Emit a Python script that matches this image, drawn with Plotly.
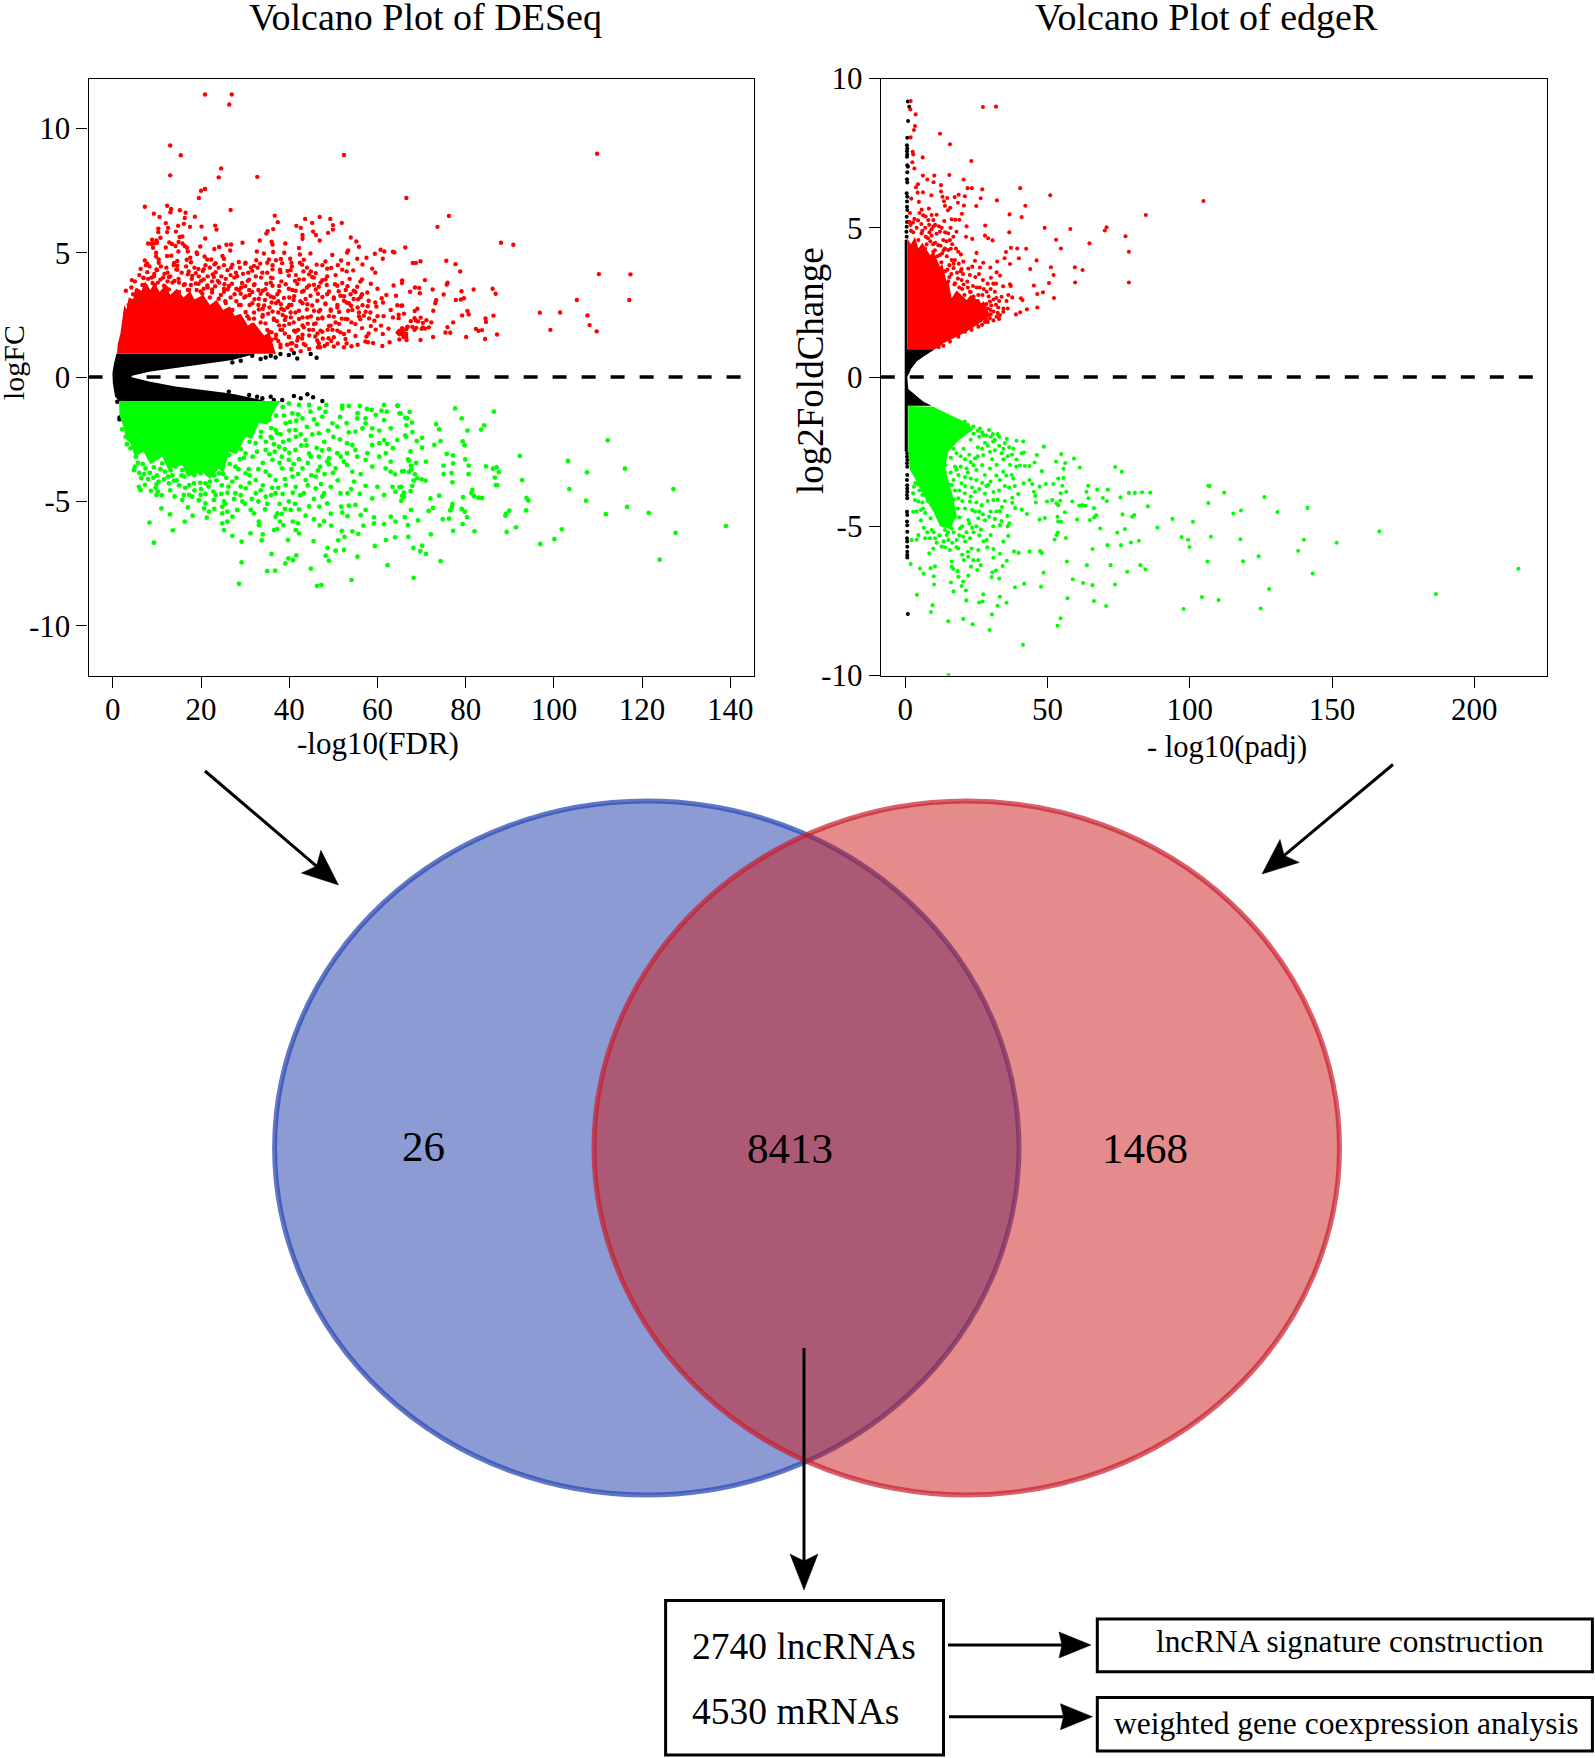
import plotly.graph_objects as go

W, H = 1595, 1758
SERIF = "Liberation Serif"

# ---------- DATA ----------
deseq_up = [(20.9,11.36),(26.96,11.36),(26.4,10.96),(13,9.31),(15.4,8.92),(52.4,8.93),(24.55,8.39),(13,8.11),(24,8.03),(32.75,8.05),(20.9,7.56),(20,7.49),(19.5,7.2),(7.25,6.85),(26.7,6.72),(12.3,6.89),(13.2,6.76),(13.05,6.63),(15.2,6.71),(16.5,6.61),(9.3,6.57),(10.6,6.44),(18.6,6.45),(16.3,6.4),(12,6.19),(14.8,6.08),(16.1,6.16),(17.5,6.04),(20.1,6.05),(23.2,6.09),(23.5,5.93),(36.7,6.49),(37.4,6.23),(43.6,6.36),(41.6,6.08),(42.6,6),(45.2,6.2),(46.9,6.44),(49.3,6.36),(49.9,6.11),(49.9,5.93),(48.8,5.8),(51.9,6.2),(45.4,5.85),(46.05,5.71),(46.9,5.49),(43,5.71),(43,5.56),(36.35,5.95),(35.1,5.87),(34.8,5.77),(33.3,5.49),(29.4,5.4),(36,5.44),(36.2,5.33),(39.1,5.37),(53.95,5.61),(55.2,5.45),(55.8,5.24),(53.35,5.09),(53.1,5.01),(51.75,4.69),(55.4,4.76),(53.35,4.56),(57.5,4.8),(59.4,4.96),(60.7,5.12),(61.55,5.05),(63.5,5.04),(63.8,5.01),(61.2,4.76),(65.6,3.89),(63.65,3.68),(58.8,4.36),(59.5,4.2),(56.6,4.53),(52,4.32),(53,4.25),(54.5,4.29),(53.7,3.95),(56.5,3.93),(56.1,3.84),(55.4,3.63),(48.2,4.65),(49.75,4.91),(48.6,4.36),(49.5,4.39),(46.2,4.52),(44.8,4.97),(42.2,5.19),(42.4,4.93),(43.3,4.72),(42.4,4.6),(40.2,4.76),(40.5,4.59),(38.85,5),(38.1,4.75),(36.35,5.03),(34.25,4.97),(32.65,5.05),(32.5,4.7),(35,4.6),(35.4,4.73),(37,4.7),(37.9,4.32),(39.6,4.27),
(10.3,5.97),(10.3,5.83),(12.5,6),(12.3,5.83),(14.3,5.85),(15.75,5.65),(15.15,5.63),(10.8,5.6),(9.9,5.49),(8.9,5.52),(8,5.37),(8.7,5.36),(9.3,5.37),(10,5.4),(9.1,5.2),(12.8,5.41),(13.4,5.35),(14.2,5.27),(14.9,5.43),(15.8,5.37),(16.3,5.27),(20.95,5.57),(19.8,5.25),(16.8,5.2),(12,5.21),(14.85,5.05),(17,5.05),(19,5.01),(23,5.15),(24.1,5.23),(25.75,5.32),(26.8,5.33),(26.6,5.09),(24.85,4.87),(25.2,4.76),(9.8,5),(9.8,4.85),(12.3,4.87),(13.25,4.88),(13.9,4.59),(14.6,4.67),(16.75,4.72),(17.55,4.8),(19.1,4.95),(20.8,4.85),(21.4,4.73),(22.3,4.73),(7.25,4.69),(7.8,4.56),(10.4,4.73),(28.55,4.63),(30,4.56),
(109.8,8.98),(66.55,7.2),(76.2,6.48),(73.6,6.04),(88,5.4),(90.8,5.32),(66.3,5.21),(69.75,4.66),(68,4.59),(68.7,4.59),(75.6,4.68),(77.7,4.54),(78.75,4.25),(110.2,4.14),(117.35,4.13),(70.75,3.9),(65.55,3.78),(75.9,3.79),(75.7,3.72),(72.5,3.52),(68.5,3.6),(69.45,3.58),(69.6,3.37),(67.4,3.43),(75,3.32),(79.05,3.45),(81.8,3.52),(86.1,3.55),(86.8,3.35),(105.2,3.1),(117.1,3.1),(79.6,3.17),(78.9,3.12),(77.75,3.1),(73.3,3.09),(73.1,2.97),(65.4,2.87),(69.05,2.75),(68.45,2.66),(72.65,2.67),(80.4,2.66),(80.7,2.52),(79.2,2.48),(66,2.55),(96.8,2.59),(101.4,2.6),(107.6,2.48),(86.3,2.47),(84.5,2.36),(84.6,2.22),(64.8,2.37),(68.4,2.37),(67.55,2.25),(68.7,2.28),(69.2,2.24),(69.8,2.39),(71.1,2.29),(70.3,2.18),(72.2,2.2),(77.15,2.2),(108.1,2.09),(75.85,2.01),(82.3,1.94),(82.9,1.86),(83.7,1.89),(99.2,1.9),(109.7,1.84),(75.4,1.79),(76.5,1.78),(67.9,2.02),(66.85,2.03),(68.4,1.9),(68.8,1.98),(70,1.94),(70.3,2),(70.8,1.95),(71.65,2),(66.55,1.93),(65.7,1.89),(64.6,1.79),(65,1.72),(65.9,1.79),(66.5,1.74),(65.9,1.61),(72.6,1.61),(80.1,1.61),(87.1,1.71),(84.4,1.53),(64.95,1.51),(66.6,1.49),(69.75,1.49),
(61.1,1.25),(62.75,1.4),(59,1.37),(57.85,1.4),(57.25,1.43),(57.5,1.63),(61.2,1.73),(60.8,2.07),(59.6,1.91),(59.3,2.27),(58.4,2.6),(59.75,2.84),(59.5,3),(58,3.07),(60.95,3.17),(61.25,3),(61.4,2.45),(63.5,2.4),(64.8,2.51),(64.5,2.89),(65.6,2.88),(64.2,3.27),(65,1.87),(65.6,1.97),(66.7,2),(65.5,1.73),(66.5,1.63),(56.9,2.47),(56.1,2.33),(56.5,1.97),(55,2.13),(53.2,2.33),(54.1,2.2),(53.35,2.67),(54,2.87),(55.5,2.8),(55.6,3.13),(56.5,3.33),(54.6,3.47),(53.9,3.33),(52.4,1.73),(51.6,1.8),(52.75,1.53),(54.1,1.24),(52.4,1.2),(50.1,1.23),(48.6,1.33),(50.1,1.6),(50.9,1.87),(49.4,2.07),(50.5,2.2),(47.1,1.87),(47.5,2.4),(49.4,2.67),(50.9,2.8),(48.2,2.93),(50.1,3.2),(51.6,3.27),(52.4,3.07),(48.6,3.33),(50.35,3.73),(48.2,3.93),(46.7,3.63),(45.6,3.71),(44.5,4.13),(45.6,4),(41.3,3.87),(43.3,3.93),(41.45,3.47),(43.3,3.47),(44.8,3.27),(46.35,3.07),(44.1,2.93),(45.6,2.67),(44.1,2.4),(45.6,2.13),(43.3,2),(44.5,1.67),(46.35,1.47),(46.5,1.2),(44.5,1.13),(42.6,1.04),(43.3,1.33),(41.8,1.47),(39.95,1.6),(41.1,1.87),(38.85,2.07),(40.35,2.4),(42.2,2.67),(39.6,2.8),(40,3.2),(38.1,2.93),(37.3,3.33),(39.2,3.73),(35.85,4),(36.2,3.67),(35.1,3.33),(34,3.47),(32.1,3.73),(33.6,4),(30.6,3.87),(29.1,3.6),(27.55,4),(26.8,4.4),(31.3,4.4),(32.8,4.4),(29.8,3.2),(32.1,3.13),(27.6,3.33),(25.3,3.73),(26.05,3.53),(23.8,3.87),(22.65,4.13),(23.05,4.53),(20.4,4.27),(18.5,4.4),(17,4.13),(14.4,4.33),(12.15,4.4),(9.9,4.33),(6.9,4),(2.95,3.47),(4.6,3.33),(5.4,3.47),(8.75,4),(11.4,4),(14,3.87),(16.3,3.73),(20,3.87),(21.5,3.6),
(34,2.5),(35.5,2.8),(36.5,2.3),(37.5,2.6),(38,1.9),(39,2.3),(39.5,1.3),(40.5,1.1),(38,1.2),(36,1.5),(35,1.9),(33.5,2.2),(32,2.6),(31,2.9),(33,2.9),(36,3),(41,2.2),(42,1.6),(43,2.4),(42.5,3.05),(41,3.1),(37,1.7),(34.5,1.35),(44,3.6),(46.5,2.35),(47.6,1.55),(48.7,1.9),(47,2.7),(30.5,2.45),(29,2.9),(28,3.05),(24.5,3.3),(22.5,3.4),(25.5,3.05),(19,3.5),(17,3.5),(12,3.6),(9.5,3.7),(7.5,3.65),
(7.5,4.5),(10.4,4.6),(14.6,4.48),(17.7,4.62),(21,4.5),(23.3,4.58),(27.1,4.52),(30.1,4.6),(32,4.47),(33.4,4.56),(36.2,4.5),(38.4,4.58),(40.6,4.45),(42.9,4.52),(7.8,4.22),(10,4.3),(12.4,4.2),(14.6,4.32),(17.2,4.25),(18.8,4.18),(20.6,4.34),(23.3,4.22),(26,4.3),(27.9,4.2),(31.6,4.28),(33.9,4.2),(36.2,4.33),(38,4.22),(40.3,4.3),(44.9,4.25),(46,4.18),(7,3.98),(9.3,4.05),(10.8,3.92),(12.7,4.02),(14.9,3.95),(18,4.07),(20.6,3.93),(22.9,4.03),(25.6,3.95),(28.2,4.06),(30.9,3.92),(32.4,4.05),(36.2,3.98),(39.9,4.08),(42.2,3.93),(45.2,4.02),(47.5,3.9),(48.6,4.05),(6.7,3.7),(9,3.78),(11.6,3.67),(13.5,3.8),(16.1,3.7),(18.8,3.76),(21.4,3.68),(24.1,3.8),(26.3,3.66),(29.3,3.78),(32,3.7),(35.8,3.8),(37.7,3.66),(41.8,3.75),(44.5,3.68),(47.1,3.8),(50.9,3.67),(52,3.78),(5.5,3.42),(7.4,3.5),(10,3.44),(12.7,3.52),(15,3.42),(17.3,3.5),(19.9,3.44),(22.5,3.52),(25.2,3.43),(28.6,3.5),(31.6,3.42),(34.6,3.53),(37.7,3.45),(40.7,3.5),(42.9,3.43),(46,3.52),(49,3.44),(52.8,3.5),(55,3.42),(30.1,3.25),(33.1,3.15),(35.8,3.24),(38.8,3.18),(41.1,3.25),(43.7,3.14),(47.5,3.22),(50.1,3.15),(52.4,3.25),(54.6,3.14),(56.2,3.22),(3.6,2.9),(25.6,2.98),(28.6,2.9),(31.6,2.97),(34.3,2.88),(37,2.98),(40,2.9),(43,2.97),(45.2,2.88),(48.2,2.96),(50.9,2.9),(53.5,2.97),(56.6,2.89),(2.9,2.62),(27.1,2.7),(30.1,2.62),(33.1,2.72),(36.2,2.64),(38.8,2.7),(41.4,2.6),(44,2.72),(46.7,2.64),(49.4,2.72),(51.3,2.62),(54.3,2.7),(57.3,2.63),(30.9,2.35),(33.9,2.43),(36.5,2.36),(39.2,2.42),(42.2,2.34),(44.9,2.44),(47.5,2.36),(50.1,2.43),(52.8,2.34),(55.8,2.44),(58.1,2.36),(31.6,2.1),(34.6,2.16),(37.7,2.08),(40,2.14),(43,2.08),(46,2.16),(49,2.06),(51.3,2.14),(35.4,1.83),(38.4,1.9),(41.4,1.82),(44.5,1.9),(47.5,1.82),(49.8,1.9),(53.5,1.85),(36.9,1.56),(39.9,1.62),(42.9,1.55),(45.9,1.63),(48.9,1.56),(38,1.3),(40.7,1.36),(43.7,1.28),(46.7,1.36),
(4.2,3.6),(5,3.85),(6,4.1),(6.3,4.35),(8.3,4.45),(9.4,4.15),(10.9,4.45),(11.7,4.15),(13,4.05),(13.8,4.5),(15.6,4.2),(16.6,4.45),(17.9,3.95),(19.4,4.35),(19.5,4.05),(21.5,4.05),(22,4.4),(24,4.4),(24.6,4.05),(25.2,4.5),(26.7,4.1),(28.8,4.4),(29.5,4.15),(30.7,4.2),(4.3,3.9),(8,3.95),(10.2,3.8),(12.4,3.85),(15,3.8),(17.7,3.7),(19.4,3.75),(20.6,3.55),(22.5,3.85),(23.2,3.65),(25.2,3.55),(27,3.75),(28,3.55),(30,3.65),(30.9,3.5),(33,3.5),(33.5,3.35),(31,3.3),(29,3.35),(26.7,3.2),(24,3.15),(22,3.2),(20.3,3.35),(34.5,3.1),(36.5,3.2),(37.5,3.05),(34,2.75),(32,2.35),(35.2,2.55),(37.2,2.25),(38.5,2.5),(40.3,2.6),(38.2,2.75),(40.5,2.9),(36,1.8),(37.5,1.45),(39,1.75),(40.3,1.35),(41.6,1.25),(42,1.9),(43,1.7),(44.2,2.15),(45.4,1.9),(46.4,1.75),(47,1.2),(48,1.25),(49.5,1.45),(51,1.35),(53,1.35),(55,1.65),(55.5,1.3),(58,1.75),(58.5,2.05),(60,2.45),(62.5,1.95),(63,2.7),(62,3.3),(60,3.55),(58.5,3.75),(57.7,3.4),(57.8,2.85),(55.8,2.6),(53,3),(51.9,2.35),(49,2.45),(46.5,3.35),(48.5,3.7),(51.2,3.45),(53.2,3.65),(39.9,3.55),(38.2,3.85),(34.8,3.75),(35,4.2),(41.5,4.1),(43.2,4.25),(44,4.4),(47.5,4.5),(50.5,4.1),(51,4.5)]
deseq_down = [(77.6,-1.26),(86.4,-1.39),(67.3,-1.4),(65,-1.46),(64.6,-1.15),(79.1,-1.66),(66.3,-1.64),(67.8,-1.83),(66.55,-1.94),(73.3,-1.89),(74,-2.1),(80.4,-2.15),(84.2,-1.94),(83.5,-2.11),(67.9,-2.21),(66.3,-2.34),(66.5,-2.4),(70.1,-2.44),(68.9,-2.57),(74.3,-2.57),(79.3,-2.58),(79.75,-2.74),(112.2,-2.54),(72.9,-2.73),(70.1,-2.84),(67.5,-2.99),(75.7,-3.09),(77.1,-3.15),(92.25,-3.17),(66.9,-3.31),(67.15,-3.36),(68.75,-3.45),(71,-3.4),(79.9,-3.31),(103.2,-3.37),(77.15,-3.47),(75,-3.56),(80.7,-3.56),(84.6,-3.59),(67.6,-3.56),(87,-3.63),(86.2,-3.68),(87.5,-3.82),(116.1,-3.68),(107.5,-3.83),(65.6,-3.79),(67.15,-3.82),(67.6,-3.72),(75,-3.9),(76.8,-3.86),(80.65,-3.9),(68.5,-3.91),(86.6,-4.04),(69,-4.07),(70,-4.11),(70.9,-4.16),(68.2,-4.16),(92.8,-4.14),(77,-4.23),(67.9,-4.37),(86.8,-4.34),(87.2,-4.34),(65,-4.42),(103.5,-4.5),(127.1,-4.5),(67.5,-4.58),(81.5,-4.53),(81.3,-4.66),(66,-4.65),(65.6,-4.78),(65.4,-4.97),(74,-4.77),(72,-4.88),(79.4,-4.83),(81.9,-4.79),(82.9,-4.85),(83.7,-4.86),(93.8,-4.86),(94.2,-4.96),(107.3,-4.97),(77,-5.1),(76.85,-5.24),(76.5,-5.36),(72.6,-5.26),(71.6,-5.38),(79.1,-5.3),(79.8,-5.41),(67.6,-5.34),(89.9,-5.37),(89.2,-5.49),(89,-5.57),(93.7,-5.36),(116.6,-5.22),(121.5,-5.46),(111.8,-5.51),(66.2,-5.63),(74.8,-5.71),(76.2,-5.69),(80.3,-5.63),(69.2,-5.76),(66.9,-5.95),(79.3,-5.91),(91.4,-6.04),(101.8,-6.12),(139,-5.99),(77.15,-6.18),(82,-6.2),(89.3,-6.23),(127.6,-6.26),(72.1,-6.32),(67,-6.42),(100.1,-6.51),(96.9,-6.71),(70.1,-6.78),(68.15,-6.87),(69.7,-7),(71,-7.11),(74.3,-7.4),(124,-7.34),(68.2,-8.07),
(9.3,-6.66),(8.3,-5.85),(13.6,-6.16),(16.3,-5.81),(12.95,-5.52),(11,-5.28),(18.1,-5.57),(21.3,-5.65),(17,-5.24),(6.45,-4.07),(5.9,-4.41),(6.3,-4.54),(7.3,-4.33),(9.9,-4.3),(9.7,-4.45),(8.65,-4.57),(10.2,-4.61),(9.9,-4.74),(11.1,-4.75),(11.6,-4.11),(12.7,-4.27),(13.85,-4.16),(17.3,-4.34),(18.4,-4.27),(16.1,-4.74),(17.3,-4.74),(15.75,-4.94),(18,-4.81),(19.9,-4.74),(21,-5.08),(20.7,-5.28),(21.8,-5.41),(23.3,-4.74),(22.9,-4.94),(25.2,-5),(24.8,-5.21),(25.95,-5.41),(24.8,-5.48),(28.2,-5.34),(27.1,-5.61),(25.95,-5.81),(24.8,-5.88),(25.2,-6.15),(27.1,-6.38),(29.2,-6.62),(31.2,-6.28),(34,-6.32),(33.75,-6.56),(33.1,-5.81),(33.1,-5.95),(31.25,-5.34),(32,-5.48),(34.5,-5.32),(37.3,-5.48),(38.3,-5.5),(36.9,-5.61),(37.9,-5.81),(38.65,-5.95),(37.3,-6.11),(36.55,-6.15),(41.45,-6.15),(42.2,-6.28),(39.7,-6.55),(40.8,-5.81),(42,-5.88),(40.3,-5.34),(42.2,-5.32),(39.9,-5),(43.7,-5.57),(45.6,-5.71),(46.9,-5.96),(47.9,-5.79),(49.5,-5.97),(46.8,-5.21),(48.6,-5.08),(49.4,-5.49),(51.8,-5.21),(52,-5.45),(53.2,-5.59),(53.5,-5.17),(55,-5.14),(56.2,-5.55),(57.3,-5.34),(59.2,-5.64),(59.2,-5.88),(56.8,-5.97),(61.5,-5.91),(63,-5.61),(64.1,-5.81),(51.9,-6.18),(52.5,-6.42),(54.3,-6.2),(55.65,-6.3),(51.1,-6.56),(45.5,-6.59),(59.4,-6.79),(61.9,-6.55),(64,-6.44),(48.7,-6.87),(50.5,-6.98),(52.4,-6.95),(48.25,-7.18),(49,-7.38),(55.45,-7.22),(62.3,-7.56),(41.6,-7.17),(40.85,-7.36),(39.8,-7.29),(39.1,-7.49),(36,-7.11),(29.2,-7.45),(35,-7.8),(36.8,-7.78),(44.9,-7.7),(54.1,-8.16),(28.6,-8.31),(46.3,-8.39),(47.3,-8.36),
(61.5,-1.12),(64.5,-1.15),(65.25,-1.46),(66.8,-1.66),(53.5,-1.16),(56,-1.16),(57.6,-1.28),(59.6,-1.52),(60.9,-1.35),(62.1,-1.39),(58.7,-1.32),(52,-1.26),(48.4,-1.12),(46.8,-1.26),(44.5,-1.12),(42.2,-1.12),(39.9,-1.06),(55.4,-1.66),(57.3,-1.66),(61.5,-1.73),(57.3,-1.86),(58.8,-2.06),(56.6,-2.06),(53.5,-2.22),(55,-2.19),(58.5,-2.36),(60.4,-2.15),(63,-2.06),(61.5,-2.53),(64.5,-2.53),(60.4,-2.66),(58.8,-2.73),(62.2,-2.69),(63.5,-2.86),(53.1,-2.66),(54.3,-2.73),(55,-2.93),(55.4,-3.2),(57.7,-3.06),(60.4,-3.2),(61.9,-3.06),(63,-3.4),(57.3,-3.33),(53.1,-3.06),(50.9,-3.06),(52.4,-3.4),(49,-3.27),(50.5,-3.67),(53.1,-3.53),(54.3,-3.8),(56.2,-3.9),(58.8,-3.6),(61.85,-3.67),(63,-3.8),(66,-3.78),(64,-3.91),(54.7,-4.2),(57.3,-4.37),(59.95,-4.41),(63.4,-4.41),(65.4,-4.41),(61.5,-4.74),(58.8,-4.88),(64.1,-4.61),(66,-4.81),(53.2,-4.67),(51.6,-4.67),(49.4,-4.41),(47.9,-4.67),(46,-4.47),(43.3,-4.67),(41.45,-4.41),(39.2,-4.34),(36.9,-4.67),(34.65,-4.81),(32.4,-4.67),(29.35,-5),(27.8,-4.67),
(47.5,-1.59),(49.8,-1.86),(50.9,-1.99),(46.7,-2.26),(47.9,-2.6),(43.7,-2.53),(41.4,-2.13),(39.2,-1.86),(36.9,-2.13),(35.4,-1.73),(40.7,-1.46),(43,-1.66),(44.8,-1.39),(39.9,-2.53),(37.7,-2.8),(41.4,-2.93),(44.5,-3.07),(46.7,-3.2),(48.6,-3.4),(39.9,-3.33),(36.2,-3.33),(38.4,-3.67),(43,-3.67),(46,-4),(43.7,-4.14),(40.7,-4),(36.9,-4.14),(34.65,-3.8),(32.4,-4.14),(30.1,-3.87),(27.8,-3.6),(26.3,-3.13),(30.1,-3.07),(32.4,-2.66),(34.65,-2.93),(35.8,-2.4),(30.9,-2.13),(33.1,-1.73),(30.1,-1.73),(27.8,-1.93),(25.6,-2.13),(24.05,-2.53),(27.1,-2.53),(24.8,-3.07),(22.2,-3.47),(24.05,-3.87),(27.1,-4.2),(30.1,-4.47),(21,-4.27),(19.9,-3.87),(15.75,-3.74),(14.2,-3.6),(11.2,-3.47),(9.3,-3.63),(7.4,-3.67),(5.2,-3.2),(4,-2.86),(2.1,-2.1),(4.8,-3.74),
(38.5,-1.2),(37,-1.55),(40.2,-1.8),(42,-1.5),(34.5,-1.55),(35.9,-2.05),(38,-2.3),(41.5,-2.4),(44,-2),(45.6,-1.7),(48.8,-2.15),(50,-2.4),(46.2,-2.85),(42.7,-2.75),(39,-2.9),(36.5,-2.7),(33.5,-2.4),(31,-2.6),(29,-2.9),(31.7,-3.2),(35.5,-3.1),(38.3,-3.2),(41,-3.5),(44.2,-3.45),(47,-3.6),(49.9,-3.85),(45,-3.95),(42,-3.9),(39,-4.1),(35.5,-3.95),(33,-3.7),(28.8,-3.3),(26.5,-3.5),(25,-3.9),(28,-4.05),(31,-4.25),(34,-4.35),(37.5,-4.45),(40.8,-4.65),(44.2,-4.35),(47.2,-4.3),(23,-3.95),(21.5,-3.9),(18.5,-3.95),(17,-3.6),(16.2,-4),(13.5,-3.95),(11.8,-3.8),(10,-3.95),(8.4,-3.85),(6.8,-3.5),(5.7,-3.45),(3.2,-2.7),(2.9,-2.4),(22,-4.2),(24.7,-4.35),(26,-4.65),(29,-4.4),(31.5,-4.9),(35,-5.1),(37.8,-5.1),(41.3,-5.1),(44.5,-5.2),(25.5,-5.1),(23,-5.3),(20,-4.5),(19.5,-4.95),(15,-4.35),(13,-4.55),(14,-4.8),(51.5,-1.6),(53,-1.85),(51.5,-2.5),(49,-2.9),(51.7,-3.2),(47.5,-4.8),(51,-4.15),(54,-4.5),(56,-4.7),(52,-1.15),(55.5,-1.45),
(5,-3.6),(6,-3.85),(7.1,-3.9),(8,-4.1),(9.2,-4.05),(10.4,-4.2),(10.8,-3.7),(12.5,-4),(13.1,-3.75),(14.5,-4.15),(15.6,-3.95),(16.4,-4.45),(17,-3.85),(18.5,-4.55),(19.8,-4.25),(21,-4.7),(21.7,-4.4),(22.8,-4.6),(23.5,-4.15),(24.6,-4.7),(25.7,-4.05),(26.2,-4.4),(27.5,-4.9),(29,-4.75),(30,-5.1),(28.5,-3.7),(30.8,-3.7),(29.7,-3.25),(31,-3.95),(33.5,-4.55),(33,-5),(34,-3.45),(32.7,-3),(33.6,-2.2),(34.7,-2.6),(36,-2.45),(37.2,-2.25),(38.6,-2.6),(36.7,-3),(37.8,-3.45),(40,-3.05),(40.5,-3.7),(38.8,-1.55),(40,-2.15),(41.6,-1.75),(42.6,-2.3),(43.9,-2.75),(45.2,-2.3),(44.9,-3.2),(42.2,-3.3),(46.5,-3.75),(48,-3.9),(49,-3.5),(36.1,-4.45),(35.9,-4.75),(38.5,-4.7),(39,-5.3),(42.5,-4.75),(45.6,-4.9),(46.3,-1.9),(48.2,-1.4),(47.4,-2.95)]
deseq_ns = [(33.5,0.73),(34.65,0.79),(35.8,0.86),(36.9,0.79),(38,0.93),(39.9,0.89),(41.05,0.97),(41.8,0.75),(44.85,0.93),(46.2,0.78),(27.1,0.59),(29,0.66),(31.6,0.86),(30.9,-0.72),(32.7,-0.79),(33.9,-0.85),(35.8,-0.79),(36.5,-0.92),(38.4,-0.92),(41.05,-0.76),(42.6,-0.85),(44.1,-0.69),(45.4,-0.81),(47.5,-0.96),(26.3,-0.59),(27.8,-0.79),(1.5,-1.62),(1.5,-1.7),(1,-0.99)]
# outlines of the areas where the dots merge into a solid mass
deseq_up_mass = [(0.94,0.94),(1.1,1.33),(1.7,1.73),(2,2.2),(2.6,2.9),(3.1,2.73),(3.6,3.2),(4.6,3.13),(5.2,3.6),(6.5,3.47),(7.3,3.85),(8.5,3.5),(9.5,3.8),(10.5,3.42),(12,3.7),(13,3.3),(14.5,3.55),(16,3.2),(17.5,3.45),(18.5,3.13),(20.5,3.3),(22,2.9),(23.5,3.1),(25,2.7),(26.5,2.85),(27.6,2.47),(29,2.55),(30.6,2.07),(32,2.2),(34.3,1.67),(35.5,1.8),(36.6,1.13),(37,0.94)]
deseq_down_mass = [(1.4,-0.96),(1.5,-1.52),(2.5,-2.06),(3,-2.5),(4,-2.66),(5,-3.2),(7,-3),(8.5,-3.5),(11.2,-3.2),(12.5,-3.7),(15.75,-3.53),(17,-4),(20.3,-3.8),(22,-4.1),(24.05,-3.67),(25,-3.9),(26.3,-3),(28,-3.1),(30.1,-2.4),(31.5,-2.5),(33.1,-1.86),(35,-1.9),(36.9,-1.26),(38,-0.96)]
deseq_ns_mass = [(0.8,0.94),(32.4,0.94),(27.1,0.69),(21,0.53),(14.2,0.35),(8.2,0.22),(3.65,0.02),(8.2,-0.18),(14.2,-0.38),(21,-0.52),(26.3,-0.65),(30.9,-0.81),(34.6,-0.96),(1.4,-0.96),(0.5,-0.78),(0,-0.25),(-0.1,0.15),(0.25,0.55)]

edger_up = [(1.9,9.25),(1.8,8.97),(3.65,8.8),(27.3,9.05),(31.9,9.06),(3.4,8.41),(3.05,8.28),(12.2,8.15),(1.9,8.03),(15.7,7.8),(2.6,7.55),(2.8,7.46),(6.1,7.36),(23.2,7.24),(2.5,7.2),(3.2,6.99),(6.2,6.75),(10.2,6.75),(15.5,6.77),(7.75,6.62),(9.95,6.53),(20.5,6.62),(12.55,6.43),(4.45,6.46),(3.75,6.36),(21.9,6.33),(23.4,6.33),(27.05,6.29),(40.4,6.33),(12.55,6.22),(4.35,6.18),(6.2,6.19),(9.15,6.09),(18.75,6.11),(17.35,6.03),(20.95,6.06),(50.95,6.09),(13.1,6.04),(14.75,6),(26.5,5.99),(32.2,5.92),(104.8,5.9),(2.1,5.98),(4.8,5.87),(13.6,5.89),(18.5,5.84),(20.6,5.75),(24.95,5.73),(42.2,5.74),(13.95,5.74),(5.75,5.61),(8.3,5.65),(15.8,5.67),(15,5.59),(19.9,5.47),(1.65,5.5),(36.65,5.45),(40.9,5.36),(84.55,5.43),(9.25,5.43),(11,5.44),(6.3,5.42),(7.15,5.38),(8.1,5.26),(9.85,5.26),(13.7,5.23),(16.3,5.29),(17.6,5.27),(19,5.27),(2.7,5.18),(1.9,5.1),(5.65,5.13),(8.4,5.1),(9.85,5.04),(21.55,5.05),(28.1,5.08),(36.55,4.85),(49,5),(58,4.96),(70.75,5.02),(70.15,4.91),(77.4,4.72),(78.6,4.2),(78.6,3.17),(53,4.6),(64.75,4.48),(54.7,4.31),(28,4.74),(29.15,4.65),(30.7,4.58),(21.35,4.7),(23.55,4.63),(37.15,4.33),(39.35,4.31),(42.5,4.3),(35.4,4.19),(25.05,4.16),(34.9,3.98),(39.95,3.98),(32.3,3.87),(36.8,3.79),(46.15,3.91),(43.9,3.62),(51.2,3.68),(59.6,3.68),(62.3,3.59),(52.1,3.42),(59.7,3.17),(50.5,3.15),(45.2,3.07),(48.4,2.84),(46.4,2.78),(52.25,2.65),(46.4,2.33),(42.75,2.27),(40.4,2.17),(38.9,2.1),(40.65,2.64),(41.2,2.58),(37.6,2.67),(36.2,2.75),(34.4,3.04),(37.1,3.05),(36.8,3.11),(32.1,3.51),(33.3,3.4),(29.9,3.67),(30.1,3.33),(28.95,3.13),(30.95,3.13),(31.9,3.13),(27.4,3.83),(24.5,3.9),(26.25,3.67),(22.15,3.64),(23.55,3.7),(22.7,3.42),(20.4,3.87),(19.8,3.62),(17.8,4.31),(18.6,4.2),(19.55,4.11),(16.3,3.92),(17.45,3.92),(15.1,4.26),(13.95,4.31),(12.2,4.87),(15.1,4.82),(18,4.87),(16.9,4.7),(15.7,4.59),(13.35,4.59),(11.6,4.42),(9.25,4.74),(5.75,4.82),(4.6,4.59),(6.95,4.31),(9.85,4.2),(12.2,4.09),
(33.3,2.08),(34.45,2.19),(32.1,2.02),(29.75,1.97),(28,1.85),(25.7,1.69),(23.3,1.58),(21,1.52),(18.65,1.35),(15.7,1.19),(13.4,1.05),(29.75,2.53),(31.9,2.42),(32.7,2.33),(35.6,2.55),(33.85,2.69),(31.5,2.86),(28.6,2.86),(25.05,3),(25.65,2.75),(22.7,2.86),(19.8,3.25),(17.45,3.14),(15.1,3.2),(18.65,2.75),(28,2.42),(29.15,2.08),(26.25,2.19),(23.3,2.42),
(2.8,4.85),(4,5),(6,4.9),(7.2,4.7),(8.5,4.85),(7.5,4.45),(8.8,4.55),(10.5,4.5),(11,4.8),(10.4,4.25),(13,4.15),(12.4,4.4),(14.6,4.05),(15.5,3.75),(14,3.55),(16.2,3.45),(18.2,3.5),(17.3,3.1),(19,3),(20.5,3.1),(21.8,3.2),(23.8,3.05),(20.8,2.75),(24,2.7),(27.1,2.75),(29.3,2.7),(30.2,2.4),(31,2.2),(30,2.25),(27.5,2.1),(28.4,1.95),(26.5,1.9),(27,1.75),(16,4.3),(17,3.8),(18.8,3.8),(20.3,3.45),(24.6,3.35),(25.9,3.45),(27.3,3.25),(26.2,3),(27.6,2.95),(30,2.95),(32,2.65),(33,2.55),(34.5,2.3),(36,2.3),(31,1.9),(24.5,1.85),(22,1.75),(20,1.65),(18,1.55),(16,1.4),(14.5,1.3),(12,1.1),
(1.5,5.2),(2,4.9),(3.2,5.3),(4.5,5.25),(5,5.5),(7,5),(9.2,4.95),(10.5,5.1),(11.8,5.05),(12.8,5),(14,4.85),(15.9,5),(16.5,4.45),(13.5,4.25),(14.5,4.55),(8,4.65),(9.8,4.45),(11.3,4.05),(12.7,3.85),(14.8,3.6),(15.5,3.35),(17,3.65),(18.5,3.3),(19.5,3.55),(20,2.95),(22,3),(23,2.85),(24.5,2.55),(25.5,2.55),(28.5,2.45),(29,2.3),(31,2.6),(32.5,2.15),(33,1.95),(29,1.85),(30,2.1),(25,1.8),(23,1.65),(21.5,1.6),(19.3,1.5),(17.3,1.4),(15.3,1.3),(13.2,1.2),(11.7,1)]
edger_down = [(41.35,-8.97),(15.2,-9.98),(29.65,-8.47),(23.65,-8.28),(20.4,-8.1),(15.1,-8.18),(30.45,-7.95),(9,-7.87),(9.6,-7.64),(4.1,-7.29),(21.45,-7.48),(26,-7.55),(27.2,-7.52),(32.45,-7.66),(35.6,-7.56),(33.25,-7.36),(27.4,-7.28),(17,-7.18),(21.3,-7.15),(53.5,-8.33),(54.6,-8.08),(47.7,-7.02),(38.55,-7.04),(41.8,-6.92),(57,-7.41),(66.3,-7.5),(70.6,-7.67),(58.9,-6.77),(62.5,-6.9),(65.8,-6.97),(73.7,-6.95),(104.25,-7.37),(97.8,-7.77),(48.6,-6.55),(33,-6.75),(30.35,-6.7),(30.6,-6.54),(31.85,-6.48),(34.2,-6.33),(35.7,-6.15),(10.1,-6.95),(10,-6.67),(10.45,-6.34),(8.9,-6.4),(6.45,-6.59),(5.15,-6.41),(1.9,-6.26),(16.05,-6.88),(19.8,-7),(20.3,-6.85),(18.65,-6.69),(22.15,-6.65),(18.4,-6.5),(16.9,-6.43),(25.3,-6.46),(23.1,-6.35),(26.5,-6.3),(25.65,-6.13),(23.9,-6.13),(20.6,-6.13),(22.15,-6.02),(16.3,-6.18),(16.3,-6.35),(56.8,-6.18),(63.85,-6.3),(72.15,-6.3),(82.6,-6.3),(84.4,-6.44),(78,-6.52),(106.2,-6.18),(38.2,-5.84),(39.85,-5.89),(43.7,-5.84),(47.4,-5.83),(48,-5.89),(65.8,-5.76),(71.1,-5.63),(75.8,-5.63),(79.3,-5.54),(82.1,-5.48),(52.5,-5.44),(53.15,-5.29),(53.65,-5.21),(56.45,-5.39),(74.5,-5.21),(77.2,-5.09),(68.5,-5.07),(88.65,-5.04),(97.1,-5.36),(99.4,-5.45),(99.9,-5.69),(93.9,-4.75),(101.1,-4.85),(106.5,-3.64),(106.5,-4.22),(85.25,-4.33),(86.1,-3.87),(83.25,-3.86),(80.7,-3.88),(78.6,-3.88),(75.65,-4.03),(76.35,-4.6),(79.75,-4.68),(80.45,-4.62),(71.2,-3.77),(67.45,-3.77),(69.45,-4.05),(70.85,-4.15),(64.3,-3.64),(63.7,-3.84),(64.4,-4.06),(66.3,-4.39),(61.15,-4.3),(62.2,-4.29),(63.35,-4.31),(58.7,-4.17),(67.1,-4.63),(66.4,-4.7),(64.9,-4.79),(60.4,-4.77),(56.1,-4.53),(53.5,-4.68),(53.75,-4.84),(54.7,-4.85),(49.1,-4.72),(47.2,-4.77),(42.75,-4.59),(40.9,-4.44),(38.65,-4.39),(37.6,-4.21),(37.6,-4.04),(45.9,-4.2),(49.8,-4.17),(51.65,-4.12),(54.45,-4.14),(53.15,-4.23),(53.75,-4.29),(56.6,-3.84),(54.6,-3.89),(55.2,-3.64),(53.75,-3.4),(55.6,-3.38),(52,-3.58),(49.4,-3.58),(47.2,-3.67),(45.2,-3.84),(45.7,-3.98),(44.6,-3.58),(43.7,-3.45),(41.6,-3.56),(39.7,-3.92),(48,-3.15),(45.45,-2.86),(46.25,-2.61),(42.05,-2.98),(43.7,-2.98),(40.3,-2.96),(39.1,-2.76),(40.9,-2.55),(41.7,-2.53),(48.7,-2.33),(41.45,-2.16),(39.1,-2.13),(35.7,-2.07),(32.45,-1.91),(30.8,-1.91),(29.4,-1.77),(54.8,-2.58),(59.3,-2.73),(53,-2.83),(56.2,-2.88),(55.6,-3.07),(61.35,-3.03),(73.8,-3.01),(76.1,-3.17),(36.55,-2.35),(35,-2.21),(33.85,-2.55),(30.9,-2.16),(27.4,-1.94),(26.25,-1.72),(23.9,-1.66),(20.95,-1.49),(29.75,-2.5),(27.4,-2.61),(24.5,-2.72),(32.1,-2.94),(36.8,-2.94),(34.4,-3.17),(29.75,-3.06),(25.05,-3.11),(21.55,-3.06),(18.65,-3.28),(28,-3.28),(37.4,-3.28),(33.25,-3.45),(29.15,-3.62),(24.5,-3.84),(19.8,-3.56),(16.3,-3.62),(20.95,-3.89),(22.75,-4.17),(18.65,-4.06),(16.3,-4.17),(26.85,-4.29),(30.95,-4.12),(33.25,-4.49),(29.5,-4.68),(35.85,-4.65),(33.85,-4.82),(30.95,-5),(33.25,-4.96),(36.55,-4.9),(35.95,-5),(36.2,-5.32),(34.45,-5.51),(30,-5.29),(28.6,-5.46),(26.6,-5.11),(25.65,-4.73),(22.15,-4.79),(19.2,-5.07),(17.45,-4.68),(15.7,-4.51),(16.3,-5.07),(13.95,-5.12),(22.75,-5.4),(20.4,-5.35),(21,-5.51),(18.05,-5.46),(14.55,-5.29),(15.15,-5.46),(12.8,-5.68),(15.7,-5.79),(18.6,-5.74),(23.3,-5.74),(25.65,-5.79),(28.8,-5.7),(31,-5.76),(33.25,-5.92),(30.95,-6.05),(10.45,-5.4),(8.7,-5.4),(7.75,-5.2),(4.6,-5.29),(2.25,-5.46),(9.85,-5.74),(8.45,-5.9),(9.25,-5.12),(8.9,-4.73),(6.3,-4.4),(2.8,-4.51),(3.4,-4.12),(4.6,-4.17),(2.8,-3.89),(3.05,-3.67),
(166.6,-5.17),(215.5,-6.42),(186.5,-7.27),(151.6,-5.55),(141.4,-4.38),(140.1,-5.45),(138.1,-5.82),(143.2,-6.58),(130.8,-4.52),(126.2,-4.02),(124.2,-6),(118.7,-6.17),(117.8,-5.43),(118,-4.47),(115.3,-4.57),(112.1,-3.87),(107,-3.65),(107.4,-5.35),(127.9,-7.1),(124.9,-7.75),(110.1,-7.47),
(22,-1.6),(24,-1.9),(26,-2),(28,-2.2),(25.5,-2.35),(23,-2.1),(20.5,-1.85),(18.5,-2),(16.5,-2.2),(14.5,-2.35),(13,-2.6),(12,-2.85),(14,-2.95),(16,-2.7),(18,-2.55),(20.5,-2.4),(22.5,-2.6),(24,-2.95),(27,-2.95),(30.5,-2.75),(33,-2.3),(31.5,-2.45),(34.5,-2.75),(37.5,-2.6),(39,-3),(35.5,-3.3),(32,-3.3),(30,-3.5),(27,-3.55),(25,-3.45),(23,-3.4),(21,-3.35),(18,-3.1),(16,-3.2),(14,-3.2),(12.5,-3.5),(14.8,-3.75),(17.5,-3.8),(20,-4.15),(23.5,-4.45),(21,-4.4),(18.5,-4.4),(16.8,-4.7),(15.5,-4.9),(15,-5.2),(12,-5.3),(13.5,-5.5),(17,-5.2),(19,-5.3),(24,-5.2),(27.3,-4.6),(29,-4.15),(32.5,-4.1),(35,-4.15),(31.5,-4.75),(27.5,-5.5),(23.5,-5.05),(28,-3.9),(25,-4.2),(35,-3.65),(38.5,-3.65),(11.5,-4.6),(7,-4.55),(8,-4.15),(6,-3.95),(4.5,-3.6),(3.5,-3.55),(6.5,-5.05),(5.5,-4.8),
(25.5,-1.8),(27,-1.85),(28.5,-1.95),(30,-2),(31.5,-2.1),(33,-2),(34.5,-2.4),(36,-2.65),(38,-2.4),(29,-2.3),(27,-2.4),(25.5,-2.65),(23,-2.85),(21,-2.75),(19.5,-2.65),(17,-2.4),(15.5,-2.05),(17.5,-3),(19.5,-3),(22,-3.2),(23.5,-3.7),(26,-3.75),(28.5,-3.65),(31,-3.85),(33,-3.8),(36.5,-3.7),(38,-3.4),(15.5,-3.6),(17,-3.45),(19,-3.8),(21,-3.65),(23,-4),(24.5,-4.5),(26,-4.5),(28,-4.8),(30,-4.5),(32,-4.5),(34,-4.35),(17,-4.1),(19,-4.7),(20,-5),(21.5,-5.2),(22.5,-4.9),(25,-5),(26,-5.3),(18,-5.7),(20,-5.95),(22,-5.85),(16.5,-5.55),(14,-5.7),(11,-5.55),(10,-5.2),(6,-4.2),(5,-3.8),(4,-4.5),(5.5,-4.45),(7,-5.4),(4,-5.45)]
edger_ns = [(0.9,9.23),(1.4,9.06),(1,8.58),(0.7,8.02),(0.6,7.77),(0.7,7.66),(0.6,7.57),(0.7,7.46),(0.6,7.38),(0.7,7.1),(0.9,7.05),(0.7,6.86),(0.6,6.63),(0.7,6.52),(0.5,6.16),(0.7,6.04),(0.6,5.88),(0.6,5.71),(0.7,5.6),(0.5,5.37),(0.6,5.2),(0.5,5.04),(0.4,4.87),(0.5,4.7),(0.7,-2.55),(0.6,-2.67),(0.7,-2.78),(0.6,-2.89),(0.7,-3),(0.7,-3.28),(0.6,-3.45),(0.7,-3.62),(0.7,-3.73),(0.7,-3.84),(0.6,-3.95),(0.7,-4.06),(0.6,-4.51),(0.7,-4.62),(0.6,-4.84),(0.7,-4.96),(0.7,-5.18),(0.6,-5.4),(0.7,-5.51),(0.7,-5.68),(0.7,-5.85),(0.7,-5.96),(0.7,-6.04),(0.9,-7.94)]
edger_up_mass = [(0.7,0.93),(0.7,4.65),(2,4.45),(3.4,4.7),(4.6,4.31),(6,4.5),(8.7,4.09),(10,4.2),(12.2,3.7),(13,3.8),(14.5,3.2),(15,3.3),(16.3,2.64),(18,2.9),(21.55,2.58),(23,2.75),(26.85,2.47),(27.5,2.55),(29.75,2.08),(25.05,1.74),(20.4,1.46),(16.9,1.3),(13.4,1.13),(10.4,0.93)]
edger_down_mass = [(1.05,-0.97),(9.85,-0.99),(14.5,-1.21),(21,-1.5),(24,-1.75),(19,-2.1),(15,-2.5),(14,-3.1),(16.5,-3.9),(18,-4.6),(16,-5.1),(12.2,-5),(9.85,-4.5),(6.3,-3.95),(3.4,-3.4),(1.65,-3.1),(1.05,-2.5)]
edger_ns_mass = [(-0.2,4.6),(0.7,4.6),(0.7,0.93),(10.4,0.93),(6.3,0.68),(4,0.52),(2.2,0.3),(0.7,0),(1.05,-0.4),(3.4,-0.6),(6.3,-0.82),(9.25,-0.96),(0.9,-0.96),(0.9,-2.5),(-0.2,-2.5)]

deseq_xticks = [0, 20, 40, 60, 80, 100, 120, 140]
deseq_yticks = [-10, -5, 0, 5, 10]
edger_xticks = [0, 50, 100, 150, 200]
edger_yticks = [-10, -5, 0, 5, 10]
venn_counts = ["26", "8413", "1468"]
outcome_labels = ["2740 lncRNAs", "4530 mRNAs"]
step_labels = ["lncRNA signature construction", "weighted gene coexpression analysis"]

# ---------- helpers ----------
px = lambda x: x / W
py = lambda y: 1 - y / H

def text(s, x, y, size, anchor="center", angle=0):
    return dict(text=s, x=px(x), y=py(y), xref="paper", yref="paper", showarrow=False,
                xanchor=anchor, yanchor="middle", textangle=angle,
                font=dict(family=SERIF, size=size, color="black"))

def box(x0, y0, x1, y1, lw=3):
    return dict(type="rect", xref="paper", yref="paper", x0=px(x0), x1=px(x1), y0=py(y1), y1=py(y0),
                line=dict(color="black", width=lw), fillcolor="white")

def arrow(x0, y0, x1, y1, lw=3, head=32, half=13, notch=7):
    d = ((x1-x0)**2 + (y1-y0)**2)**0.5
    ux, uy = (x1-x0)/d, (y1-y0)/d
    nx, ny = -uy, ux
    bx, by = x1-ux*head, y1-uy*head
    mx, my = x1-ux*(head-notch), y1-uy*(head-notch)
    pts = [(x1, y1), (bx+nx*half, by+ny*half), (mx, my), (bx-nx*half, by-ny*half)]
    path = "M " + " L ".join(f"{px(a):.5f},{py(b):.5f}" for a, b in pts) + " Z"
    return [dict(type="line", xref="paper", yref="paper", x0=px(x0), y0=py(y0), x1=px(mx), y1=py(my),
                 line=dict(color="black", width=lw)),
            dict(type="path", xref="paper", yref="paper", path=path, fillcolor="black",
                 line=dict(color="black", width=0.5))]

fig = go.Figure()

def mass(pts, color, ax):
    xs, ys = zip(*pts)
    fig.add_trace(go.Scatter(x=list(xs)+[xs[0]], y=list(ys)+[ys[0]], mode="lines", fill="toself",
                             fillcolor=color, line=dict(width=0, color=color), hoverinfo="skip",
                             showlegend=False, xaxis=ax[0], yaxis=ax[1]))

def dots(pts, color, ax, size):
    xs, ys = zip(*pts)
    fig.add_trace(go.Scatter(x=list(xs), y=list(ys), mode="markers", showlegend=False,
                             marker=dict(color=color, size=size, line=dict(width=0)),
                             xaxis=ax[0], yaxis=ax[1]))

A1, A2 = ("x", "y"), ("x2", "y2")
RED, GREEN = "#ff0000", "#00ff00"
mass(deseq_ns_mass, "black", A1); dots(deseq_ns, "black", A1, 4.4)
mass(deseq_up_mass, RED, A1); dots(deseq_up, RED, A1, 4.4)
mass(deseq_down_mass, GREEN, A1); dots(deseq_down, GREEN, A1, 4.8)
mass(edger_ns_mass, "black", A2); dots(edger_ns, "black", A2, 4)
mass(edger_up_mass, RED, A2); dots(edger_up, RED, A2, 4.1)
mass(edger_down_mass, GREEN, A2); dots(edger_down, GREEN, A2, 4.1)

def xaxis(domain, rng, ticks, anchor):
    return dict(domain=[px(domain[0]), px(domain[1])], range=rng, tickvals=ticks, ticktext=[str(t) for t in ticks],
                ticks="outside", ticklen=11, tickwidth=1.3, tickcolor="black", showline=True, linecolor="black",
                linewidth=1.3, mirror=True, showgrid=False, zeroline=False, anchor=anchor, ticklabelstandoff=-5,
                tickfont=dict(family=SERIF, size=31, color="black"))

def yaxis(rng, ticks, anchor):
    return dict(domain=[py(675.6), py(78.6)], range=rng, tickvals=ticks, ticktext=[str(t) for t in ticks],
                ticks="outside", ticklen=11, tickwidth=1.3, tickcolor="black", showline=True, linecolor="black",
                linewidth=1.3, mirror=True, showgrid=False, zeroline=False, anchor=anchor,
                tickfont=dict(family=SERIF, size=31, color="black"))

shapes = [
    dict(type="line", xref="x", yref="y", x0=-5.5, x1=145.3, y0=0, y1=0, line=dict(color="black", width=3.5, dash="14px,15px")),
    dict(type="line", xref="x2", yref="y2", x0=-8.6, x1=225.4, y0=0, y1=0, line=dict(color="black", width=3.5, dash="14px,15px")),
    dict(type="circle", xref="paper", yref="paper", x0=px(274.6), x1=px(1019), y0=py(1495), y1=py(801),
         fillcolor="rgba(25,55,169,0.5)", line=dict(color="rgba(45,75,180,0.75)", width=5)),
    dict(type="circle", xref="paper", yref="paper", x0=px(594), x1=px(1339.5), y0=py(1495), y1=py(801),
         fillcolor="rgba(203,23,23,0.5)", line=dict(color="rgba(200,30,45,0.7)", width=5)),
    box(665.6, 1600.5, 943.5, 1755),
    box(1097.3, 1619, 1592.4, 1671.7),
    box(1097.3, 1697.6, 1592.4, 1751),
]
shapes += arrow(205, 771, 338.5, 885, lw=3, head=36, half=15, notch=7)
shapes += arrow(1393, 764.5, 1262, 874, lw=3, head=36, half=15, notch=7)
shapes += arrow(804, 1348, 804, 1590, lw=3, head=36, half=14, notch=7)
shapes += arrow(948, 1645, 1091, 1645, lw=3, head=32, half=13, notch=3)
shapes += arrow(949, 1716.7, 1092.5, 1716.7, lw=3, head=32, half=13, notch=3)

annotations = [
    text("Volcano Plot of DESeq", 425, 17, 38),
    text("Volcano Plot of edgeR", 1206, 17, 38),
    text("logFC", 14, 363, 30, angle=-90),
    text("log2FoldChange", 810, 371, 37, angle=-90),
    text("-log10(FDR)", 378, 743, 31),
    text("- log10(padj)", 1226.5, 747, 30.5),
    text(venn_counts[0], 423, 1146, 43),
    text(venn_counts[1], 790, 1148, 43),
    text(venn_counts[2], 1144.5, 1148, 43),
    text(outcome_labels[0], 690, 1646, 37.5, anchor="left"),
    text(outcome_labels[1], 690, 1711, 37.5, anchor="left"),
    text(step_labels[0], 1350, 1641, 31.3),
    text(step_labels[1], 1346.6, 1723, 31.5),
]

fig.update_layout(
    width=W, height=H, autosize=False, margin=dict(l=0, r=0, t=0, b=0, autoexpand=False),
    paper_bgcolor="white", plot_bgcolor="white", showlegend=False,
    xaxis=xaxis((88.6, 753.7), [-5.5, 145.3], deseq_xticks, "y"),
    yaxis=yaxis([-12, 12], deseq_yticks, "x"),
    xaxis2=xaxis((880.8, 1546.6), [-8.6, 225.4], edger_xticks, "y2"),
    yaxis2=yaxis([-10, 10], edger_yticks, "x2"),
    shapes=shapes, annotations=annotations,
)
fig.write_html("out.html", config={"displayModeBar": False},
               post_script="document.body.style.margin='0';document.documentElement.style.overflow='hidden';")
